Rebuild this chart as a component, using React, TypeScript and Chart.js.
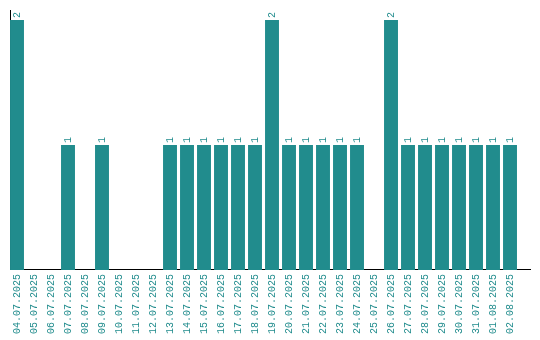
import React, { useEffect, useRef } from "react";
import { Chart, registerables } from "chart.js";

Chart.register(...registerables);

const categories = [
  "04.07.2025", "05.07.2025", "06.07.2025", "07.07.2025", "08.07.2025",
  "09.07.2025", "10.07.2025", "11.07.2025", "12.07.2025", "13.07.2025",
  "14.07.2025", "15.07.2025", "16.07.2025", "17.07.2025", "18.07.2025",
  "19.07.2025", "20.07.2025", "21.07.2025", "22.07.2025", "23.07.2025",
  "24.07.2025", "25.07.2025", "26.07.2025", "27.07.2025", "28.07.2025",
  "29.07.2025", "30.07.2025", "31.07.2025", "01.08.2025", "02.08.2025",
];

const values = [
  2, 0, 0, 1, 0, 1, 0, 0, 0, 1,
  1, 1, 1, 1, 1, 2, 1, 1, 1, 1,
  1, 0, 2, 1, 1, 1, 1, 1, 1, 1,
];

const TEAL = "#218c8d";
const FONT = "'Liberation Mono', 'DejaVu Sans Mono', monospace";
// extra room in category units before the first band / after the last band
const X_LEAD = -0.088;
const X_TRAIL = 0.676;

const valueLabels = {
  id: "valueLabels",
  afterDatasetsDraw(chart: any) {
    const ctx = chart.ctx;
    const meta = chart.getDatasetMeta(0);
    const data = chart.data.datasets[0].data as number[];
    ctx.save();
    ctx.fillStyle = TEAL;
    ctx.font = `10px ${FONT}`;
    ctx.textAlign = "left";
    ctx.textBaseline = "middle";
    meta.data.forEach((el: any, i: number) => {
      const v = data[i];
      if (!v) return;
      ctx.save();
      ctx.translate(el.x, el.y - 2);
      ctx.rotate(-Math.PI / 2);
      ctx.fillText(String(v), 0, 0);
      ctx.restore();
    });
    ctx.restore();
  },
};

export default function App() {
  const ref = useRef<HTMLCanvasElement | null>(null);
  useEffect(() => {
    document.body.style.margin = "0";
    if (!ref.current) return;
    const chart = new Chart(ref.current, {
      type: "bar",
      data: {
        labels: categories,
        datasets: [
          {
            data: values,
            backgroundColor: TEAL,
            barPercentage: 0.82,
            categoryPercentage: 1,
          },
        ],
      },
      options: {
        animation: false,
        responsive: false,
        maintainAspectRatio: false,
        layout: { padding: { left: 10, right: 10, top: 10, bottom: 2 } },
        plugins: { legend: { display: false }, tooltip: { enabled: false } },
        scales: {
          x: {
            grid: { display: false, drawTicks: false },
            border: { display: true, color: "#000", width: 1 },
            ticks: {
              color: TEAL,
              font: { family: FONT, size: 10 },
              minRotation: 90,
              maxRotation: 90,
              autoSkip: false,
              padding: 4,
            },
            afterBuildTicks: (scale: any) => {
              scale._startValue = scale.min - 0.5 - X_LEAD;
              scale._valueRange = categories.length + X_LEAD + X_TRAIL;
            },
          },
          y: {
            min: 0,
            max: 2.08,
            grid: { display: false, drawTicks: false },
            border: { display: true, color: "#000", width: 1 },
            ticks: { display: false },
            afterFit: (scale: any) => {
              scale.width = 0;
            },
          },
        },
      },
      plugins: [valueLabels],
    });
    return () => chart.destroy();
  }, []);
  return (
    <div style={{ width: 540, height: 340 }}>
      <canvas ref={ref} width={540} height={340} style={{ display: "block" }} />
    </div>
  );
}
